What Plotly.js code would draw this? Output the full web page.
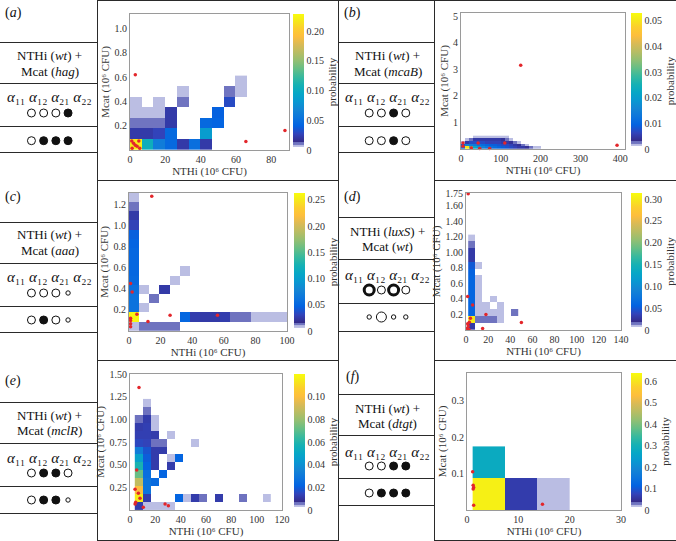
<!DOCTYPE html>
<html><head><meta charset="utf-8">
<script src="https://cdn.plot.ly/plotly-3.0.1.min.js"></script>
<style>html,body{margin:0;padding:0;background:#fff}#chart{width:676px;height:541px}</style>
</head><body><div id="chart"></div>
<script>
const W=676,H=541,N=null;
const SERIF='Liberation Serif, Times New Roman, serif';

// ================= DATA =================
// (a) NTHi (wt) + Mcat (hag)
const aBins={x0:0,dx:6.6,dy:0.0875};
const aZ=[
 [0.22,0.104,0.06,0.045,0.022,0.05,0.022,N,N,N],
 [0.022,0.022,0.027,0.045,N,N,0.085,N,N,N],
 [0.011,0.011,0.011,0.022,N,N,0.045,0.042,N,N],
 [0.007,0.007,0.007,0.022,N,N,N,0.04,N,N],
 [0.007,N,0.007,N,0.011,N,N,N,0.03,N],
 [N,N,N,N,0.007,N,N,N,0.011,0.007],
 [N,N,N,N,N,N,N,N,N,0.007]];
const aDotX=[3,65.6,87.7,1,2,3,4,1.2,5,5.5];
const aDotY=[0.62,0.07,0.16,0.075,0.055,0.04,0.03,0.015,0.075,0.015];
const aZMax=0.229;
const aXTicks=[0,20,40,60,80], aYTicks=[0.2,0.4,0.6,0.8,1.0], aYText=['0.2','0.4','0.6','0.8','1.0'];
const aCbTicks=[0,0.05,0.1,0.15,0.2], aCbText=['0','0.05','0.10','0.15','0.20'];
const aText=['NTHi (<i>wt</i>) +','Mcat (<i>hag</i>)'];
const aRow2=['o','o','o','f'], aRow3=['o','f','f','f'];

// (b) NTHi (wt) + Mcat (mcaB)
const bBins={x0:0,dx:10,dy:0.1};
const bZ=[
 [0.012,0.05,0.03,0.022,0.018,0.015,0.013,0.012,0.011,0.010,0.009,0.008,0.007,0.006,0.005,0.005,0.004,0.0027,0.0016,0.0016],
 [0.009,0.015,0.014,0.013,0.012,0.011,0.010,0.009,0.009,0.008,0.007,0.007,0.006,0.005,0.004,0.0027,0.0016,N,N,N],
 [0.0016,0.005,0.007,0.007,0.007,0.007,0.006,0.006,0.006,0.006,0.005,0.005,0.004,0.0027,0.0016,N,N,N,N,N],
 [N,0.0016,0.0027,0.005,0.005,0.005,0.005,0.005,0.005,0.005,0.004,0.0027,0.0016,N,N,N,N,N,N,N],
 [N,N,N,0.0016,0.0016,0.0016,0.0016,0.0016,0.0016,0.0016,0.0016,0.0016,N,N,N,N,N,N,N,N]];
const bDotX=[5,5,26,43,47,72,110,392,150];
const bDotY=[0.23,0.1,0.04,0.23,0.02,0.02,0.23,0.14,3.15];
const bZMax=0.053;
const bXTicks=[0,100,200,300,400], bYTicks=[1,2,3,4,5], bYText=['1','2','3','4','5'];
const bCbTicks=[0,0.01,0.02,0.03,0.04,0.05], bCbText=['0','0.01','0.02','0.03','0.04','0.05'];
const bText=['NTHi (<i>wt</i>) +','Mcat (<i>mcaB</i>)'];
const bRow2=['o','o','f','o'], bRow3=['o','o','f','o'];

// (c) NTHi (wt) + Mcat (aaa)
const cBins={x0:0,dx:6.4,dy:0.0875};
const cZ=[
 [0.008,0.013,0.013,0.013,0.013,N,N,N,N,N,N,N,N,N,N,N],
 [0.26,N,N,N,N,0.05,0.027,0.025,0.025,0.027,0.013,0.013,0.008,0.008,0.008,0.008],
 [0.06,0.008,N,N,N,N,N,N,N,N,N,N,N,N,N,N],
 [0.06,N,0.013,N,N,N,N,N,N,N,N,N,N,N,N,N],
 [0.058,0.008,N,0.025,N,N,N,N,N,N,N,N,N,N,N,N],
 [0.052,N,N,N,0.008,N,N,N,N,N,N,N,N,N,N,N],
 [0.05,N,N,N,N,0.008,N,N,N,N,N,N,N,N,N,N],
 [0.05,N,N,N,N,N,N,N,N,N,N,N,N,N,N,N],
 [0.05,N,N,N,N,N,N,N,N,N,N,N,N,N,N,N],
 [0.048,N,N,N,N,N,N,N,N,N,N,N,N,N,N,N],
 [0.045,N,N,N,N,N,N,N,N,N,N,N,N,N,N,N],
 [0.03,N,N,N,N,N,N,N,N,N,N,N,N,N,N,N],
 [0.025,N,N,N,N,N,N,N,N,N,N,N,N,N,N,N],
 [0.013,N,N,N,N,N,N,N,N,N,N,N,N,N,N,N],
 [0.008,N,N,N,N,N,N,N,N,N,N,N,N,N,N,N]];
const cDotX=[14.4,1,2,5,26,56,12,1,1,1,1];
const cDotY=[1.28,0.45,0.37,0.16,0.15,0.15,0.09,0.12,0.1,0.07,0.04];
const cZMax=0.263;
const cXTicks=[0,20,40,60,80,100], cYTicks=[0.2,0.4,0.6,0.8,1.0,1.2], cYText=['0.2','0.4','0.6','0.8','1.0','1.2'];
const cCbTicks=[0,0.05,0.1,0.15,0.2,0.25], cCbText=['0','0.05','0.10','0.15','0.20','0.25'];
const cText=['NTHi (<i>wt</i>) +','Mcat (<i>aaa</i>)'];
const cRow2=['o','o','o','s'], cRow3=['o','f','o','s'];

// (d) NTHi (luxS) + Mcat (wt)
const dBins={x0:2,dx:6.4,dy:0.0875};
const dZ=[
 [0.03,N,N,N,N,N,N],
 [0.30,0.0155,0.0155,0.0155,0.0094,N,N],
 [0.058,0.0094,0.0094,0.0094,0.0094,N,0.0155],
 [0.058,0.0094,0.0094,N,0.0094,N,N],
 [0.058,0.0094,N,0.0094,N,N,N],
 [0.058,0.0094,N,N,N,N,N],
 [0.058,0.0094,N,N,N,N,N],
 [0.058,0.0094,N,N,N,N,N],
 [0.055,N,N,N,N,N,N],
 [0.05,0.0094,N,N,N,N,N],
 [0.03,N,N,N,N,N,N],
 [0.03,N,N,N,N,N,N],
 [0.0155,N,N,N,N,N,N],
 [0.0094,N,N,N,N,N,N]];
const dDotX=[2,1.5,6,18,50,15,1,2,3,4,1.5,2.5];
const dDotY=[1.75,0.43,0.32,0.2,0.095,0.02,0.02,0.05,0.1,0.15,0.08,0.01];
const dZMax=0.314;
const dXTicks=[0,20,40,60,80,100,120,140];
const dYTicks=[0.2,0.4,0.6,0.8,1.0,1.2,1.4,1.6,1.75], dYText=['0.2','0.4','0.6','0.8','1.00','1.20','1.40','1.60','1.75'];
const dCbTicks=[0,0.05,0.1,0.15,0.2,0.25,0.3], dCbText=['0','0.05','0.10','0.15','0.20','0.25','0.30'];
const dText=['NTHi (<i>luxS</i>) +','Mcat (<i>wt</i>)'];
const dRow2=['T','o','T','o'], dRow3=['s','O','s','s'];

// (e) NTHi (wt) + Mcat (mclR)
const eBins={x0:3.8,dx:6.3,dy:0.0875};
const eZ=[
 [0.012,0.0036,0.0036,0.0036,0.0036,N,N,N,N,N,N,N,N,N,N,N,N],
 [0.115,0.012,N,N,N,0.022,0.0036,0.012,0.006,N,0.012,N,N,0.006,N,N,0.0036],
 [0.1,0.028,N,N,N,N,N,N,N,N,N,N,N,N,N,N,N],
 [0.088,0.028,0.024,N,N,N,N,N,N,N,N,N,N,N,N,N,N],
 [0.072,0.026,N,0.022,N,N,N,N,N,N,N,N,N,N,N,N,N],
 [0.058,0.022,0.012,N,0.012,N,N,N,N,N,N,N,N,N,N,N,N],
 [0.047,0.02,0.012,N,0.0036,0.022,N,N,N,N,N,N,N,N,N,N,N],
 [0.032,0.018,0.012,0.012,N,N,N,N,N,N,N,N,N,N,N,N,N],
 [0.015,0.014,0.006,0.006,N,N,N,0.0036,N,N,N,N,N,N,N,N,N],
 [0.013,0.013,0.012,N,0.0036,N,N,N,N,N,N,N,N,N,N,N,N],
 [0.012,0.013,0.0036,N,N,N,N,N,N,N,N,N,N,N,N,N,N],
 [0.006,0.012,0.0036,N,N,N,N,N,N,N,N,N,N,N,N,N,N],
 [N,0.006,N,N,N,N,N,N,N,N,N,N,N,N,N,N,N],
 [N,0.0036,N,N,N,N,N,N,N,N,N,N,N,N,N,N,N]];
const eDotX=[7.1,5.3,4,6.6,7.9,4.5,4,10.5,27.7,30.3];
const eDotY=[1.35,0.44,0.23,0.185,0.13,0.085,0.066,0.03,0.066,0.048];
const eZMax=0.12;
const eXTicks=[0,20,40,60,80,100,120], eYTicks=[0.25,0.5,0.75,1.0,1.25,1.5], eYText=['0.25','0.50','0.75','1.00','1.25','1.50'];
const eCbTicks=[0,0.02,0.04,0.06,0.08,0.1], eCbText=['0','0.02','0.04','0.06','0.08','0.10'];
const eText=['NTHi (<i>wt</i>) +','Mcat (<i>mclR</i>)'];
const eRow2=['o','f','f','o'], eRow3=['o','f','f','s'];

// (f) NTHi (wt) + Mcat (dtgt)
const fBins={x0:1.1,dx:6.3,dy:0.0875};
const fZ=[[0.62,0.065,0.02],[0.28,N,N]];
const fDotX=[1.1,1.2,1.3,1.2,1.3,14.7];
const fDotY=[0.105,0.068,0.062,0.058,0.013,0.016];
const fZMax=0.64;
const fXTicks=[0,10,20,30], fYTicks=[0.1,0.2,0.3], fYText=['0.1','0.2','0.3'];
const fCbTicks=[0,0.1,0.2,0.3,0.4,0.5,0.6], fCbText=['0','0.1','0.2','0.3','0.4','0.5','0.6'];
const fText=['NTHi (<i>wt</i>) +','Mcat (<i>dtgt</i>)'];
const fRow2=['o','o','f','f'], fRow3=['o','f','f','f'];

const alphaHeader='<i>α</i>₁₁ <i>α</i>₁₂ <i>α</i>₂₁ <i>α</i>₂₂';
const xTitle='NTHi (10⁶ CFU)', yTitle='Mcat (10⁶ CFU)';

// ================= STYLE / LAYOUT =================
const parula=[[0,'#352a87'],[0.063,'#3243ba'],[0.127,'#0363e1'],[0.19,'#0d75dc'],[0.254,'#1485d4'],[0.317,'#0998d1'],
 [0.381,'#06a7c6'],[0.444,'#15b1b4'],[0.508,'#38b99e'],[0.571,'#65be86'],[0.635,'#92bf73'],[0.698,'#b7bd64'],
 [0.762,'#d9ba56'],[0.825,'#fdbe3d'],[0.889,'#fcce2e'],[0.952,'#f5eb18'],[1,'#f9fb0e']];
const base=0.058;
const CS=[[0,'#ffffff'],[0.022,'#ffffff'],[0.022,'#c3c6e8'],[0.04,'#b2b5de'],[0.04,'#7478c2'],[base,'#6a6ebd']]
 .concat(parula.map(p=>[base+(1-base)*p[0],p[1]]));

const panels=[
 {k:'a',bins:aBins,z:aZ,dx:aDotX,dy:aDotY,zmax:aZMax,xt:aXTicks,xr:[0,90],yt:aYTicks,ytx:aYText,yr:[0,1.12],cbt:aCbTicks,cbx:aCbText,
  box:[130,289,14,150],cb:293,text:aText,r2:aRow2,r3:aRow3,
  tab:{x:[0,97.5],lines:[42,83,126,152],t1:56,t2:71,al:97,c2:113,c3:140.7,lab:[13,13]}},
 {k:'b',bins:bBins,z:bZ,dx:bDotX,dy:bDotY,zmax:bZMax,xt:bXTicks,xr:[0,412],yt:bYTicks,ytx:bYText,yr:[0,5.12],cbt:bCbTicks,cbx:bCbText,
  box:[461,625,13,149],cb:631,text:bText,r2:bRow2,r3:bRow3,
  tab:{x:[338.5,434.5],lines:[42,83,126,152],t1:56,t2:71,al:97,c2:113,c3:140.7,lab:[353,13]}},
 {k:'c',bins:cBins,z:cZ,dx:cDotX,dy:cDotY,zmax:cZMax,xt:cXTicks,xr:[0,100],yt:cYTicks,ytx:cYText,yr:[0,1.31],cbt:cCbTicks,cbx:cCbText,
  box:[129,287,193,331],cb:294,text:cText,r2:cRow2,r3:cRow3,
  tab:{x:[0,97.5],lines:[222,263,306,332],t1:235,t2:250,al:277,c2:293,c3:320,lab:[13,197]}},
 {k:'d',bins:dBins,z:dZ,dx:dDotX,dy:dDotY,zmax:dZMax,xt:dXTicks,xr:[0,140],yt:dYTicks,ytx:dYText,yr:[0,1.76],cbt:dCbTicks,cbx:dCbText,
  box:[466,621,193,330],cb:631,text:dText,r2:dRow2,r3:dRow3,
  tab:{x:[338.5,434.5],lines:[217,259,303,331],t1:231.5,t2:246.5,al:275,c2:290,c3:317,lab:[353,197]}},
 {k:'e',bins:eBins,z:eZ,dx:eDotX,dy:eDotY,zmax:eZMax,xt:eXTicks,xr:[0,120],yt:eYTicks,ytx:eYText,yr:[0,1.5],cbt:eCbTicks,cbx:eCbText,
  box:[130,282,374,510],cb:294,text:eText,r2:eRow2,r3:eRow3,
  tab:{x:[0,97.5],lines:[402,443,486,513],t1:415,t2:430,al:458,c2:473,c3:500,lab:[13,381]}},
 {k:'f',bins:fBins,z:fZ,dx:fDotX,dy:fDotY,zmax:fZMax,xt:fXTicks,xr:[0,30],yt:fYTicks,ytx:fYText,yr:[0,0.377],cbt:fCbTicks,cbx:fCbText,
  box:[467,621,373,510],cb:631,text:fText,r2:fRow2,r3:fRow3,
  tab:{x:[338.5,434.5],lines:[394,435,478,505],t1:408,t2:423,al:452,c2:466,c3:493,lab:[353,377]}}
];

const traces=[], shapes=[], annotations=[];
const layout={width:W,height:H,margin:{l:0,r:0,t:0,b:0},paper_bgcolor:'#fff',plot_bgcolor:'rgba(0,0,0,0)',
  showlegend:false,hovermode:false,font:{family:SERIF,size:10,color:'#222'}};
const LINE='#2a2a2a';
function hline(y,x0,x1){shapes.push({type:'line',xref:'paper',yref:'paper',x0:x0/W,x1:x1/W,y0:1-y/H,y1:1-y/H,line:{color:LINE,width:1}});}
function vline(x,y0,y1){shapes.push({type:'line',xref:'paper',yref:'paper',x0:x/W,x1:x/W,y0:1-y0/H,y1:1-y1/H,line:{color:LINE,width:1}});}
function ann(x,y,text,size){annotations.push({xref:'paper',yref:'paper',x:x/W,y:1-y/H,text:text,showarrow:false,
  xanchor:'center',yanchor:'middle',font:{family:SERIF,size:size,color:'#111'}});}
const CIRC={o:{r:4,w:1,f:false},f:{r:4,w:1,f:true},s:{r:2.2,w:1,f:false},T:{r:5,w:3,f:false},O:{r:5,w:1,f:false}};
function circ(cx,cy,code){const c=CIRC[code];
  shapes.push({type:'circle',xref:'paper',yref:'paper',xsizemode:'pixel',ysizemode:'pixel',xanchor:cx/W,yanchor:1-cy/H,
   x0:-c.r,x1:c.r,y0:-c.r,y1:c.r,line:{color:'#111',width:c.w},fillcolor:c.f?'#111':'#fff'});}

// frame lines
vline(97.5,0,541); vline(338.5,0,541); vline(434.5,0,541);
hline(0.5,97.5,676);
[180.5,360.5].forEach(y=>{hline(y,97.5,338.5);hline(y,434.5,676);});
hline(540.5,97.5,338.5); hline(540.5,434.5,676);

panels.forEach((p,i)=>{
  const s=i===0?'':String(i+1);
  const [x0,x1,y0,y1]=p.box;
  layout['xaxis'+s]={domain:[x0/W,x1/W],anchor:'y'+s,range:p.xr,tickvals:p.xt,showline:true,mirror:true,linecolor:'#9a9a9a',linewidth:1,
    ticks:'',showgrid:false,zeroline:false,fixedrange:true,tickfont:{family:SERIF,size:10,color:'#333'},
    title:{text:xTitle,font:{family:SERIF,size:11,color:'#333'},standoff:2}};
  layout['yaxis'+s]={domain:[1-y1/H,1-y0/H],anchor:'x'+s,range:p.yr,tickvals:p.yt,ticktext:p.ytx,showline:true,mirror:true,linecolor:'#9a9a9a',linewidth:1,
    ticks:'',showgrid:false,zeroline:false,fixedrange:true,tickfont:{family:SERIF,size:10,color:'#333'},
    title:{text:yTitle,font:{family:SERIF,size:11,color:'#333'},standoff:2}};
  traces.push({type:'heatmap',z:p.z,x0:p.bins.x0+p.bins.dx/2,dx:p.bins.dx,y0:p.bins.dy/2,dy:p.bins.dy,
    zmin:0,zmax:p.zmax,colorscale:CS,xaxis:'x'+s,yaxis:'y'+s,hoverinfo:'skip',
    colorbar:{x:p.cb/W,xanchor:'left',xpad:0,y:1-y0/H,yanchor:'top',ypad:0,len:y1-y0,lenmode:'pixels',thickness:11,thicknessmode:'pixels',
      outlinewidth:0,tickvals:p.cbt,ticktext:p.cbx,ticks:'',tickfont:{family:SERIF,size:10,color:'#333'},
      title:{text:'probability',side:'right',font:{family:SERIF,size:11,color:'#333'}}}});
  traces.push({type:'scatter',mode:'markers',x:p.dx,y:p.dy,xaxis:'x'+s,yaxis:'y'+s,cliponaxis:false,
    marker:{color:'#e3262b',size:3.5,line:{width:0}},hoverinfo:'skip'});
  // table
  const t=p.tab, cx=(t.x[0]+t.x[1])/2+1;
  t.lines.forEach(y=>hline(y+0.5,t.x[0],t.x[1]));
  ann(t.lab[0],t.lab[1],'(<i>'+p.k+'</i>)',14);
  ann(cx,t.t1,p.text[0],13); ann(cx,t.t2,p.text[1],13);
  ann(cx,t.al,alphaHeader,15);
  const offs=[-18.3,-6.1,6.1,18.3];
  p.r2.forEach((c,j)=>circ(cx+offs[j],t.c2,c));
  p.r3.forEach((c,j)=>circ(cx+offs[j],t.c3,c));
});
layout.shapes=shapes; layout.annotations=annotations;
Plotly.newPlot('chart',traces,layout,{staticPlot:true,displayModeBar:false});
</script></body></html>
